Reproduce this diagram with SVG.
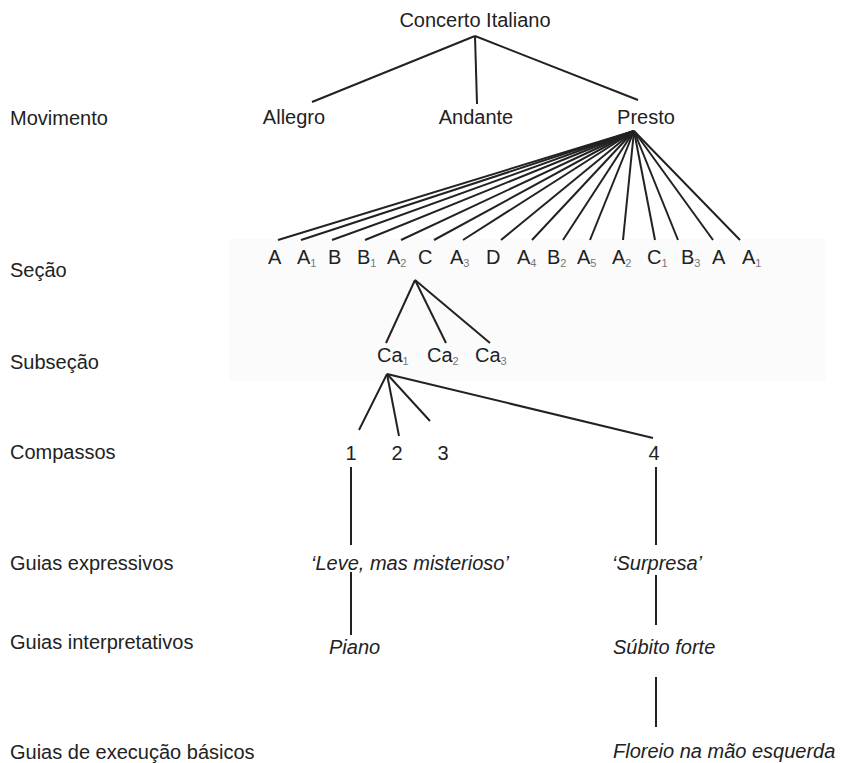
<svg xmlns="http://www.w3.org/2000/svg" width="845" height="763" viewBox="0 0 845 763">
<style>
text{font-family:"Liberation Sans",Arial,sans-serif;font-size:20px;fill:#222}
.i{font-style:italic}
.m{text-anchor:middle}
.s{font-size:11px;fill:#777}
.c line{stroke:#222;stroke-width:2;stroke-linecap:butt}
</style>
<rect id="section-band" x="229" y="239" width="597" height="142" fill="#fbfbfb"/>
<g id="levels">
<text x="10" y="125">Movimento</text>
<text x="10" y="277">Seção</text>
<text x="10" y="369">Subseção</text>
<text x="10" y="459">Compassos</text>
<text x="10" y="570">Guias expressivos</text>
<text x="10" y="649">Guias interpretativos</text>
<text x="10" y="759">Guias de execução básicos</text>
</g>
<g class="c" id="connectors">
<line x1="475" y1="36" x2="312" y2="102"/>
<line x1="475" y1="36" x2="477" y2="104"/>
<line x1="475" y1="36" x2="638" y2="100"/>
<line x1="634" y1="131" x2="278" y2="240"/>
<line x1="634" y1="131" x2="301" y2="240"/>
<line x1="634" y1="131" x2="332" y2="240"/>
<line x1="634" y1="131" x2="365" y2="240"/>
<line x1="634" y1="131" x2="401" y2="240"/>
<line x1="634" y1="131" x2="434" y2="240"/>
<line x1="634" y1="131" x2="463" y2="240"/>
<line x1="634" y1="131" x2="501" y2="240"/>
<line x1="634" y1="131" x2="532" y2="240"/>
<line x1="634" y1="131" x2="563" y2="240"/>
<line x1="634" y1="131" x2="590" y2="240"/>
<line x1="634" y1="131" x2="623" y2="240"/>
<line x1="634" y1="131" x2="655" y2="240"/>
<line x1="634" y1="131" x2="678" y2="240"/>
<line x1="634" y1="131" x2="713" y2="240"/>
<line x1="634" y1="131" x2="740" y2="240"/>
<line x1="415" y1="280" x2="386" y2="343"/>
<line x1="415" y1="280" x2="446" y2="343"/>
<line x1="415" y1="280" x2="490" y2="343"/>
<line x1="387" y1="374" x2="359" y2="430"/>
<line x1="387" y1="374" x2="399" y2="436"/>
<line x1="387" y1="374" x2="430" y2="421"/>
<line x1="387" y1="374" x2="653" y2="438"/>
<line x1="351" y1="467" x2="351" y2="545"/>
<line x1="656" y1="467" x2="656" y2="545"/>
<line x1="351" y1="572" x2="351" y2="635"/>
<line x1="656" y1="575" x2="656" y2="625"/>
<line x1="656" y1="677" x2="656" y2="727"/>
</g>
<g id="concerto"><text class="m" x="475" y="27">Concerto Italiano</text></g>
<g id="allegro"><text class="m" x="294" y="124">Allegro</text></g>
<g id="andante"><text class="m" x="476" y="124">Andante</text></g>
<g id="presto"><text class="m" x="646" y="124">Presto</text></g>
<g id="secoes">
<text x="268" y="264">A</text>
<text x="297" y="264">A<tspan class="s" dy="3">1</tspan></text>
<text x="328" y="264">B</text>
<text x="357" y="264">B<tspan class="s" dy="3">1</tspan></text>
<text x="387" y="264">A<tspan class="s" dy="3">2</tspan></text>
<text x="418" y="264">C</text>
<text x="450" y="264">A<tspan class="s" dy="3">3</tspan></text>
<text x="486" y="264">D</text>
<text x="517" y="264">A<tspan class="s" dy="3">4</tspan></text>
<text x="547" y="264">B<tspan class="s" dy="3">2</tspan></text>
<text x="577" y="264">A<tspan class="s" dy="3">5</tspan></text>
<text x="612" y="264">A<tspan class="s" dy="3">2</tspan></text>
<text x="647" y="264">C<tspan class="s" dy="3">1</tspan></text>
<text x="681" y="264">B<tspan class="s" dy="3">3</tspan></text>
<text x="712" y="264">A</text>
<text x="742" y="264">A<tspan class="s" dy="3">1</tspan></text>
</g>
<g id="subsecoes">
<text x="377" y="362">Ca<tspan class="s" dy="3">1</tspan></text>
<text x="427" y="362">Ca<tspan class="s" dy="3">2</tspan></text>
<text x="475" y="362">Ca<tspan class="s" dy="3">3</tspan></text>
</g>
<g id="compassos">
<text class="m" x="351" y="460">1</text>
<text class="m" x="397" y="460">2</text>
<text class="m" x="443" y="460">3</text>
<text class="m" x="654" y="460">4</text>
</g>
<g id="leve"><text class="i" x="311" y="570">‘Leve, mas misterioso’</text></g>
<g id="surpresa"><text class="i" x="612" y="570">‘Surpresa’</text></g>
<g id="piano"><text class="i" x="329" y="654">Piano</text></g>
<g id="subito"><text class="i" x="613" y="654">Súbito forte</text></g>
<g id="floreio"><text class="i" x="613" y="758">Floreio na mão esquerda</text></g>
</svg>
